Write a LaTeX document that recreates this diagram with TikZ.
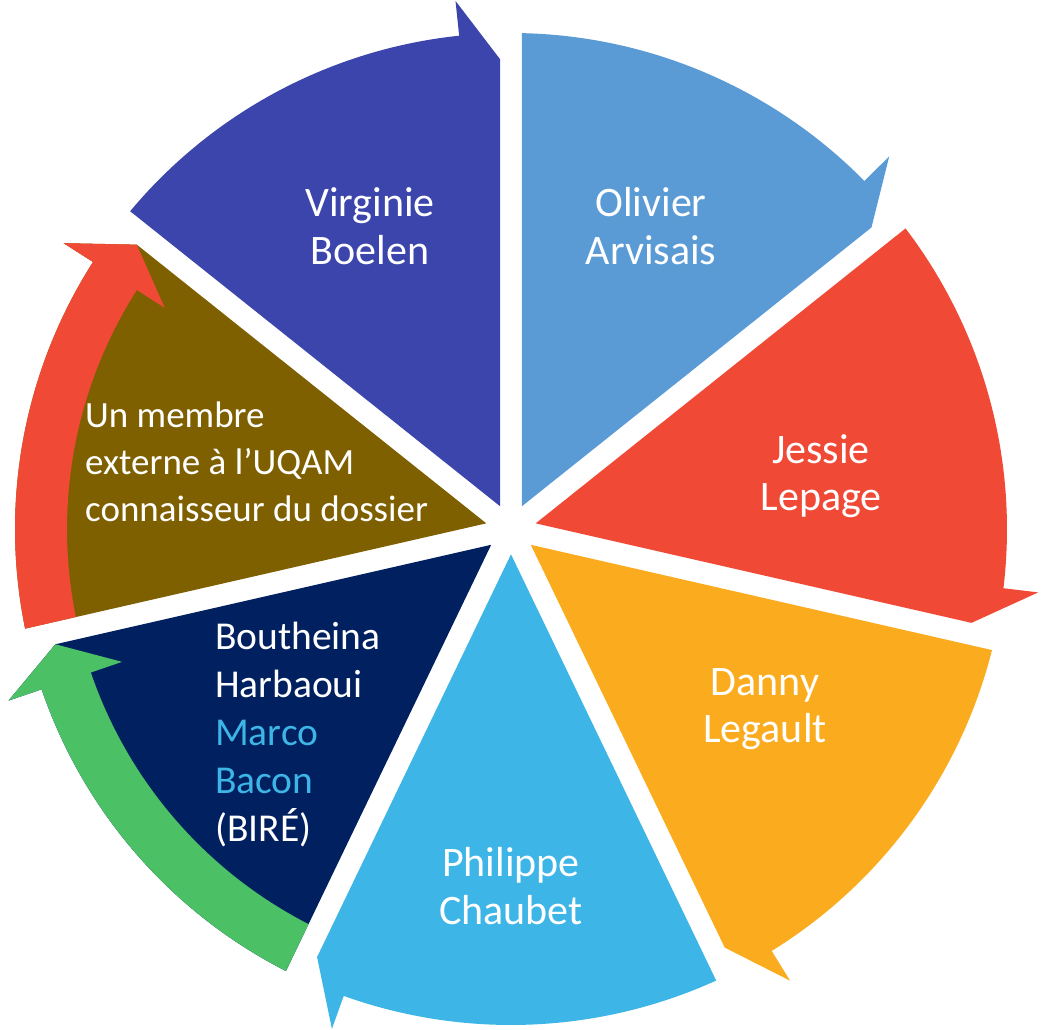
\documentclass[tikz,border=0pt]{standalone}
\usepackage{fontspec}
\setmainfont{Carlito}
\usepackage{tikz}
\usetikzlibrary{positioning}
\definecolor{olivblue}{HTML}{5B9BD5}
\definecolor{jessred}{HTML}{F04A37}
\definecolor{dannyorange}{HTML}{FBAB1E}
\definecolor{philblue}{HTML}{3DB5E6}
\definecolor{birenavy}{HTML}{002060}
\definecolor{biregreen}{HTML}{4BC065}
\definecolor{uqambrown}{HTML}{7F6000}
\definecolor{virgindigo}{HTML}{3C45AC}
\tikzset{person/.style={text=white, align=center, inner sep=0pt, font=\fontsize{42}{47.5}\selectfont}}

% #1 colour, #2 start angle, #3 end angle (clockwise)
\newcommand{\drawsegment}[3]{%
  \fill[#1] ({(#2+#3)/2}:25.35) -- ({#2-1.27}:496)
    arc[start angle={#2-1.27}, end angle={#3+6}, radius=496]
    -- ({#3+6}:531) -- ({#3+1.34}:470) -- cycle;}
\newcommand{\drawband}[3]{%
  \fill[#1] ({#2-1.27}:496)
    arc[start angle={#2-1.27}, end angle={#3+6}, radius=496]
    -- ({#3+6}:531) -- ({#3+1.34}:470) -- ({#3+6}:411) -- ({#3+6}:444)
    arc[start angle={#3+6}, end angle={#2-1.42}, radius=444] -- cycle;}

\begin{document}
\begin{tikzpicture}[x=1pt, y=1pt]
\useasboundingbox (-511,-501) rectangle (536,529);

% segments
    \drawsegment{olivblue}{90}{38.57}
    \drawsegment{jessred}{38.57}{-12.86}
    \drawsegment{dannyorange}{-12.86}{-64.29}
    \drawsegment{philblue}{-64.29}{-115.71}
    \drawsegment{birenavy}{-115.71}{-167.14}
    \drawband{biregreen}{-115.71}{-167.14}
    \drawsegment{uqambrown}{192.86}{141.43}
    \drawband{jessred}{192.86}{141.43}
    \drawsegment{virgindigo}{141.43}{90}

% names
    \node [person] (olivier) at (140,303) {Olivier\\Arvisais};
    \node [person] (jessie) at (310,53) {Jessie\\Lepage};
    \node [person] (danny) at (254,-180) {Danny\\Legault};
    \node [person] (philippe) at (0,-357) {Philippe\\Chaubet};
    \node [person, align=left, anchor=west, font=\fontsize{39.5}{48}\selectfont] (boutheina) at (-296,-206) {Boutheina\\Harbaoui\\\textcolor{philblue}{Marco}\\\textcolor{philblue}{Bacon}\\(BIRÉ)};
    \node [person, align=left, anchor=west, font=\fontsize{37}{47}\selectfont] (membre) at (-426,67) {Un membre\\externe à l’UQAM\\connaisseur du dossier};
    \node [person] (virginie) at (-141,303) {Virginie\\Boelen};
\end{tikzpicture}
\end{document}
